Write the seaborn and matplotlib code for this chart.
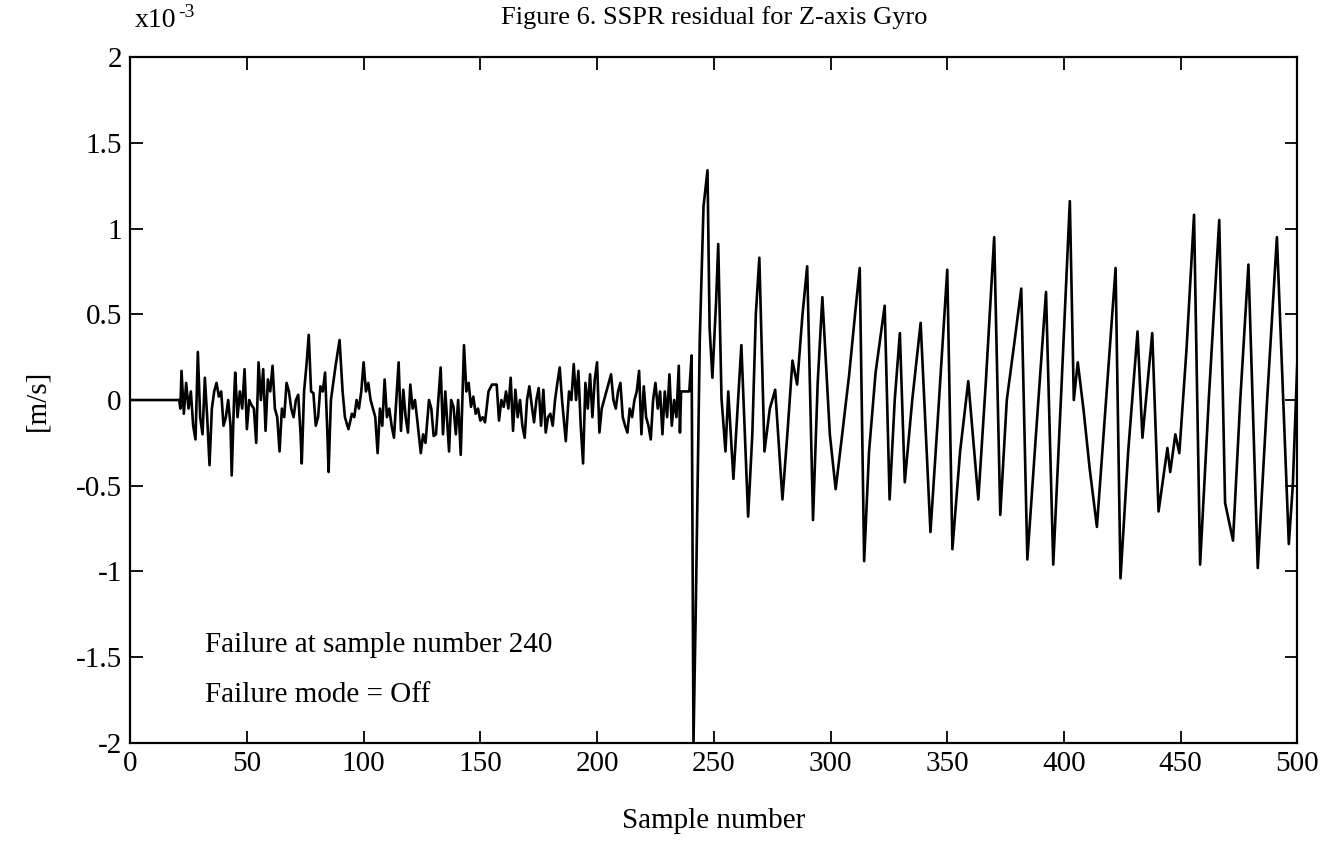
import numpy as np
import pandas as pd
import matplotlib
matplotlib.use("Agg")
import matplotlib.pyplot as plt
import seaborn as sns

# ---- data (sample number, residual in units of 1e-3 m/s) ----
quiet_early = [(0, 0), (21, 0), (21.5, -0.05), (22, 0.17), (23, -0.08), (24, 0.1), (25, -0.05),
               (26, 0.05), (27, -0.15), (28, -0.23), (29, 0.28), (30, -0.1), (31, -0.2), (32, 0.13),
               (33, -0.1), (34, -0.38), (35, -0.05), (36, 0.05), (37, 0.1), (38, 0.02), (39, 0.05),
               (40, -0.15), (41, -0.1), (42, 0.0), (43, -0.15), (43.5, -0.44), (44.5, 0.0), (45, 0.16),
               (46, -0.1), (47, 0.05), (48, -0.05), (49, 0.18), (50, -0.17), (51, 0.0), (52, -0.03),
               (53, -0.05), (54, -0.25), (55, 0.22), (56, 0.0), (57, 0.18), (58, -0.18), (59, 0.12),
               (60, 0.05), (61, 0.2), (62, -0.05), (63, -0.1), (64, -0.3), (65, -0.05), (66, -0.1),
               (67, 0.1), (68, 0.05), (69, -0.05), (70, -0.1), (71, 0.0), (72, 0.03), (73, -0.2),
               (73.5, -0.37), (74.5, 0.05), (75.5, 0.2), (76.5, 0.38), (77.5, 0.05), (78.5, 0.04),
               (79.5, -0.15), (80.5, -0.1), (81.5, 0.08), (82.5, 0.05), (83.5, 0.16), (84.5, -0.2),
               (85, -0.42), (86, 0.0), (87, 0.1), (88, 0.2), (89.7, 0.35), (91, 0.05), (92, -0.1),
               (93.5, -0.17), (95, -0.08), (96, -0.1), (97, 0.0), (98, -0.05), (99, 0.05), (100, 0.22),
               (101, 0.05), (102, 0.1), (103, 0.0), (104, -0.05), (105, -0.1), (106, -0.31),
               (107, -0.05), (108, -0.15), (109, 0.12), (110, -0.1), (111, -0.05), (112, -0.15),
               (113, -0.22), (114, 0.0), (115, 0.22), (116, -0.18), (117, 0.06)]

quiet_late = [(118, -0.1), (119, -0.19), (120, 0.09), (121, -0.05), (122, 0.0), (123, -0.12),
              (124.5, -0.31), (125.5, -0.2), (126.5, -0.25), (128, 0.0), (129, -0.05), (130, -0.21),
              (131, -0.2), (132, 0.0), (133, 0.19), (134, -0.2), (135, 0.05), (136.6, -0.3),
              (137.5, 0.0), (138.5, -0.04), (139.5, -0.2), (140.5, 0.0), (141.6, -0.32), (143, 0.32),
              (144, 0.05), (145, 0.1), (146, -0.04), (147, 0.02), (148, -0.08), (149, -0.05),
              (150, -0.12), (151, -0.1), (152, -0.13), (153.5, 0.05), (155, 0.09), (157, 0.09),
              (158, -0.12), (159, 0.0), (160, -0.04), (161, 0.05), (162, -0.05), (163, 0.13),
              (164, -0.18), (165, 0.06), (166, -0.1), (167, 0.0), (168, -0.15), (169, -0.22),
              (170, 0.0), (171, 0.08), (172, -0.03), (173, -0.13), (174, 0.0), (175, 0.07),
              (176, -0.15), (177, 0.06), (178, -0.19), (179, -0.1), (180, -0.08), (181, -0.15),
              (182, 0.0), (183, 0.1), (184, 0.19), (185, 0.0), (186.6, -0.24), (188, 0.05), (189, 0.0),
              (190, 0.21), (191, 0.0), (192, 0.17), (193, -0.15), (194, -0.37), (195, 0.1),
              (196, -0.05), (197, 0.15), (198, -0.1), (199, 0.12), (200, 0.22), (201, -0.19),
              (202, -0.05), (203, 0.0), (204, 0.05), (205, 0.1), (206, 0.15), (207, 0.0), (208, -0.05),
              (209, 0.05), (210, 0.1), (211, -0.1), (212, -0.15), (213, -0.19), (214, -0.05),
              (215, -0.1), (216, 0.0), (217, 0.05), (218, 0.17), (219, -0.2), (220, 0.08), (221, -0.1),
              (222, -0.15), (223, -0.23), (224, 0.0), (225, 0.1), (226, -0.05), (227, 0.05),
              (228, -0.2), (229, 0.05), (230, -0.1), (231, 0.15), (232, -0.15), (233, 0.0),
              (234, -0.1), (235, 0.2), (235.5, -0.19), (236, 0.05), (239.5, 0.05)]

after_failure = [(240.5, 0.26), (241.3, -2.0), (242.3, -1.2), (243.3, -0.3), (244, 0.36),
                 (245.6, 1.13), (247.3, 1.34), (248.2, 0.42), (249.4, 0.13), (251, 0.58),
                 (251.9, 0.91), (253.3, 0.01), (255, -0.3), (256.2, 0.05), (258.4, -0.46),
                 (261.8, 0.32), (264.7, -0.68), (266.5, -0.2), (268, 0.5), (269.5, 0.83),
                 (271.7, -0.3), (274, -0.05), (276.3, 0.06), (279.4, -0.58), (281.5, -0.2),
                 (283.7, 0.23), (285.7, 0.09), (288, 0.5), (290, 0.78), (292.5, -0.7),
                 (294.5, 0.1), (296.5, 0.6), (299.7, -0.2), (302.2, -0.52), (305, -0.2),
                 (308, 0.15), (310.5, 0.5), (312.5, 0.77), (314.4, -0.94), (316.5, -0.3),
                 (319.3, 0.16), (323.2, 0.55), (325.3, -0.58), (327.5, 0.0), (329.7, 0.39),
                 (331.8, -0.48), (335, 0.0), (338.6, 0.45), (342.8, -0.77), (346, -0.1),
                 (350, 0.76), (352.2, -0.87), (355.5, -0.3), (359, 0.11), (363.3, -0.58),
                 (366.5, 0.1), (370.1, 0.95), (372.7, -0.67), (375.5, 0.0), (378.7, 0.33),
                 (381.7, 0.65), (384.3, -0.93), (388, -0.2), (392.3, 0.63), (395.4, -0.96),
                 (399, 0.1), (402.5, 1.16), (404.2, 0.0), (405.9, 0.22), (408.4, -0.06),
                 (411, -0.4), (414.1, -0.74), (418, 0.0), (422.1, 0.77), (424.2, -1.04),
                 (427.5, -0.3), (431.5, 0.4), (433.6, -0.22), (437.8, 0.39), (440.5, -0.65),
                 (444.3, -0.28), (445.5, -0.42), (447.7, -0.2), (449.4, -0.31), (452.5, 0.3),
                 (455.7, 1.08), (458.3, -0.96), (462, 0.0), (466.5, 1.05), (469, -0.6),
                 (472.4, -0.82), (475.5, 0.0), (479, 0.79), (483, -0.98), (487, 0.0),
                 (491.2, 0.95), (496.3, -0.84), (498, -0.5), (500, 0.24)]

x_ticks = [0, 50, 100, 150, 200, 250, 300, 350, 400, 450, 500]
y_ticks = [-2, -1.5, -1, -0.5, 0, 0.5, 1, 1.5, 2]
y_tick_labels = ["-2", "-1.5", "-1", "-0.5", "0", "0.5", "1", "1.5", "2"]

pts = quiet_early + quiet_late + after_failure
df = pd.DataFrame(pts, columns=["sample", "residual"])

sns.set_theme(style="ticks")
plt.rcParams["font.family"] = ["Liberation Serif", "DejaVu Serif"]
plt.rcParams["text.color"] = "black"
plt.rcParams["axes.labelcolor"] = "black"

fig = plt.figure(figsize=(13.28, 8.52), dpi=100)
ax = fig.add_axes([0.098, 0.128, 0.879, 0.805])

sns.lineplot(data=df, x="sample", y="residual", ax=ax, color="black", linewidth=1.9,
             estimator=None, sort=False)

ax.set_xlim(0, 500)
ax.set_ylim(-2, 2)
ax.set_xticks(x_ticks)
ax.set_xticklabels([str(t) for t in x_ticks])
ax.set_yticks(y_ticks)
ax.set_yticklabels(y_tick_labels)
ax.tick_params(direction="in", length=9, width=1.3, top=True, right=True,
               labelsize=21, colors="black", pad=6)
for s in ax.spines.values():
    s.set_linewidth(1.6)
    s.set_color("black")

ax.set_xlabel("Sample number", fontsize=21, labelpad=22)
ax.set_ylabel("[m/s]", fontsize=21, labelpad=18)
ax.set_title("Figure 6. SSPR residual for Z-axis Gyro", fontsize=19, pad=24, color="black")
ax.text(0.004, 1.035, "x10", transform=ax.transAxes, fontsize=20, ha="left", va="bottom")
ax.text(0.041, 1.052, "-3", transform=ax.transAxes, fontsize=14, ha="left", va="bottom")

ax.text(32, -1.43, "Failure at sample number 240", fontsize=21, ha="left", va="center")
ax.text(32, -1.72, "Failure mode = Off", fontsize=21, ha="left", va="center")

fig.savefig("out.png", dpi=100, facecolor="white")
